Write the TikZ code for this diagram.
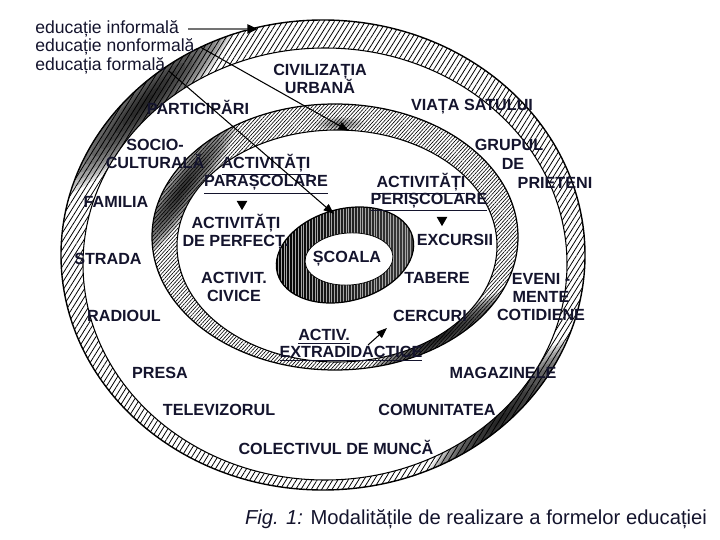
\documentclass[tikz,border=0pt]{standalone}
\usepackage{fontspec}
\setmainfont{Liberation Sans}
\usetikzlibrary{patterns.meta,arrows.meta,shapes.geometric}
\definecolor{txt}{RGB}{20,20,45}
\newcommand{\rdark}[6]{%
  \foreach \k in {1,...,12}{%
    \fill[black, opacity=#6, rotate around={#5:(#1,#2)}] (#1,#2) ellipse [x radius={#3*\k/12}, y radius={#4*\k/12}];
  }}
\begin{document}
\begin{tikzpicture}[x=0.02cm,y=-0.02cm,
  lbl/.style={font=\bfseries\fontsize{9.2}{10.5}\selectfont, text=txt, align=center, inner sep=0pt},
  side/.style={font=\fontsize{10}{11.5}\selectfont, text=txt, anchor=west, inner sep=0pt},
  tri/.style={regular polygon, regular polygon sides=3, shape border rotate=180, fill=black, inner sep=0pt, minimum size=7pt},
  ptr/.style={line width=0.6pt, -{Triangle[length=6pt,width=4.5pt]}},
  hatchA/.style={pattern={Lines[angle=58,distance=2.5pt,line width=0.45pt]}},
  hatchB/.style={pattern={Lines[angle=48,distance=1.5pt,line width=0.35pt]}},
  hatchC/.style={pattern={Lines[angle=90,distance=1.6pt,line width=0.3pt]}, pattern color=black!35}]
\useasboundingbox (0,0) rectangle (720,540);

% ---------- outer ring (informal)
\fill[white] (323,255) ellipse [x radius=262, y radius=235];
\fill[hatchA] (323,255) ellipse [x radius=262, y radius=235];
\begin{scope}
  \clip (323,255) ellipse [x radius=262, y radius=235];
  \rdark{146}{102}{130}{26}{45}{0.14}
  \rdark{500}{420}{120}{22}{45}{0.14}
\end{scope}
\draw[line width=0.8pt] (323,255) ellipse [x radius=262, y radius=235];
\fill[white] (325,264) ellipse [x radius=242, y radius=216];
\draw[line width=0.6pt] (325,264) ellipse [x radius=242, y radius=216];

% ---------- middle ring (nonformal)
\fill[white] (335,237) ellipse [x radius=183, y radius=133];
\fill[hatchB] (335,237) ellipse [x radius=183, y radius=133];
\begin{scope}
  \clip (335,237) ellipse [x radius=183, y radius=133];
  \rdark{182}{190}{95}{18}{55}{0.12}
  \rdark{440}{338}{95}{16}{30}{0.14}
  \rdark{340}{124}{25}{7}{0}{0.05}
\end{scope}
\draw[line width=0.7pt] (335,237) ellipse [x radius=183, y radius=133];
\fill[white] (337,246) ellipse [x radius=160, y radius=116];
\draw[line width=0.6pt] (337,246) ellipse [x radius=160, y radius=116];

% ---------- inner ring (formal)
\shade[rotate around={15:(345,255)}, left color=black, middle color=gray!25, right color=black!75] (345,255) ellipse [x radius=70, y radius=46];
\fill[hatchC, rotate around={15:(345,255)}] (345,255) ellipse [x radius=70, y radius=46];
\draw[line width=0.7pt, rotate around={15:(345,255)}] (345,255) ellipse [x radius=70, y radius=46];
\fill[white, rotate around={4:(349,259)}] (349,259) ellipse [x radius=44, y radius=26];
\draw[line width=0.4pt, rotate around={4:(349,259)}] (349,259) ellipse [x radius=44, y radius=26];

% ---------- side labels
\node[side] (inf) at (35,29) {educație informală};
\node[side] (nonf) at (35,47) {educație nonformală};
\node[side] (form) at (35,66) {educația formală};

% ---------- labels
\node[lbl] (civ) at (320,79) {CIVILIZAȚIA\\URBANĂ};
\node[lbl] (part) at (198,107) {PARTICIPĂRI};
\node[lbl] (viata) at (472,107) {VIAȚA SATULUI};
\node[lbl] (socio) at (155,154) {SOCIO-\\CULTURALĂ};
\node[lbl] (grupul) at (509,145) {GRUPUL};
\node[lbl] (de) at (513,164) {DE};
\node[lbl] (prieteni) at (555,183) {PRIETENI};
\node[lbl] (apara) at (266,174) {\underline{ACTIVITĂȚI}\\\underline{PARAȘCOLARE}};
\node[tri] (t1) at (242,204) {};
\node[lbl] (aperf) at (236,232) {ACTIVITĂȚI\\DE PERFECȚ.};
\node[lbl] (familia) at (116,202) {FAMILIA};
\node[lbl] (strada) at (108,259) {STRADA};
\node[lbl] (aperi1) at (421,184) {\underline{ACTIVITĂȚI}};
\node[lbl] (aperi2) at (429,202) {\underline{PERIȘCOLARE}};
\node[tri] (t2) at (442,220) {};
\node[lbl] (excursii) at (455,240) {EXCURSII};
\node[lbl] (scoala) at (347,259) {ȘCOALA};
\node[lbl] (tabere) at (437,278) {TABERE};
\node[lbl] (eveni) at (541,297) {EVENI -\\MENTE\\COTIDIENE};
\node[lbl] (acivic) at (234,287) {ACTIVIT.\\CIVICE};
\node[lbl] (radioul) at (124,316) {RADIOUL};
\node[lbl] (cercuri) at (430,316) {CERCURI};
\node[lbl] (aextra1) at (324,337) {\underline{ACTIV.}};
\node[lbl] (aextra2) at (351,354) {\underline{EXTRADIDACTICE}};
\node[lbl] (presa) at (160,373) {PRESA};
\node[lbl] (magazinele) at (503,373) {MAGAZINELE};
\node[lbl] (televizorul) at (219,410) {TELEVIZORUL};
\node[lbl] (comunitatea) at (437,410) {COMUNITATEA};
\node[lbl] (colectivul) at (336,447) {COLECTIVUL DE MUNCĂ};
\node[font=\fontsize{11.5}{13}\selectfont, text=txt, inner sep=0pt] (caption) at (476,519) {\textit{Fig. 1:} Modalitățile de realizare a formelor educației};

% ---------- arrows
\coordinate (einf) at (258,29);
\coordinate (enonf) at (349,131);
\coordinate (eform) at (334,214);
\coordinate (sx) at (368,345);
\coordinate (ex) at (387,328);
\draw[line width=1.5pt, black!55, -{Triangle[length=6pt,width=5pt,color=black]}] ([xshift=5pt]inf.east) -- (einf);
\draw[ptr] ([xshift=3pt]nonf.east) -- (enonf);
\draw[ptr] ([xshift=2pt,yshift=-3pt]form.east) -- (eform);
\draw[ptr] (sx) -- (ex);
\end{tikzpicture}
\end{document}
